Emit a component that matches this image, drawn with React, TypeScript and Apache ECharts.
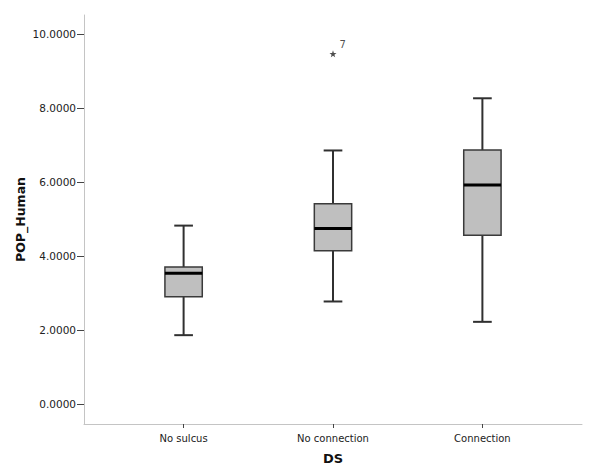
import React, { useEffect, useRef } from "react";
import * as echarts from "echarts";

const categories = ["No sulcus", "No connection", "Connection"];
const whiskerLow = [1.86, 2.77, 2.22];
const q1 = [2.9, 4.14, 4.56];
const median = [3.53, 4.74, 5.92];
const q3 = [3.7, 5.41, 6.86];
const whiskerHigh = [4.82, 6.85, 8.26];
const outliers = [[1, 9.46, "7"]];
const yTicks = [0, 2, 4, 6, 8, 10];
const xTicks = [0, 1, 2];

const STAR =
  "path://M50,0 L61.8,35.3 L97.6,34.5 L69.1,56.2 L79.4,90.5 L50,70 L20.6,90.5 L30.9,56.2 L2.4,34.5 L38.2,35.3 Z";

export default function App() {
  const ref = useRef<HTMLDivElement>(null);
  useEffect(() => {
    if (!ref.current) return;
    const chart = echarts.init(ref.current, null, { renderer: "svg" });
    const boxData = categories.map((_, i) => [i, whiskerLow[i], q1[i], median[i], q3[i], whiskerHigh[i]]);
    const font = "DejaVu Sans";
    chart.setOption({
      animation: false,
      backgroundColor: "#ffffff",
      grid: { left: 84, top: 15, right: 18, bottom: 49 },
      xAxis: {
        type: "value",
        min: -2 / 3,
        max: 8 / 3,
        name: "DS",
        nameLocation: "middle",
        nameGap: 28,
        nameTextStyle: { fontFamily: font, fontSize: 13, fontWeight: "bold", color: "#111" },
        splitLine: { show: false },
        axisLine: { show: true, onZero: false, lineStyle: { color: "#c4c4c4", width: 1 } },
        axisTick: { show: true, customValues: xTicks, length: 4, lineStyle: { color: "#444" } },
        axisLabel: {
          customValues: xTicks,
          formatter: (v: number) => categories[Math.round(v)] ?? "",
          fontFamily: font,
          fontSize: 10,
          color: "#222",
          margin: 9,
        },
      },
      yAxis: {
        type: "value",
        min: -0.54,
        max: 10.51,
        name: "POP_Human",
        nameLocation: "middle",
        nameGap: 57,
        nameMoveOverlap: false,
        nameTextStyle: { fontFamily: font, fontSize: 12.5, fontWeight: "bold", color: "#111" },
        splitLine: { show: false },
        axisLine: { show: true, onZero: false, lineStyle: { color: "#c4c4c4", width: 1 } },
        axisTick: { show: true, customValues: yTicks, length: 7, lineStyle: { color: "#444" } },
        axisLabel: {
          customValues: yTicks,
          formatter: (v: number) => v.toFixed(4),
          fontFamily: font,
          fontSize: 10.5,
          color: "#222",
          margin: 8,
        },
      },
      series: [
        {
          type: "custom",
          data: boxData,
          encode: { x: 0, y: [1, 2, 3, 4, 5] },
          renderItem: (params: any, api: any) => {
            const x = api.value(0);
            const unit = api.size([1, 0])[0];
            const bw = unit * 0.25;
            const cw = unit * 0.125;
            const pLow = api.coord([x, api.value(1)]);
            const pQ1 = api.coord([x, api.value(2)]);
            const pMed = api.coord([x, api.value(3)]);
            const pQ3 = api.coord([x, api.value(4)]);
            const pHigh = api.coord([x, api.value(5)]);
            const cx = pLow[0];
            const ws = { stroke: "#303030", lineWidth: 2 };
            return {
              type: "group",
              children: [
                { type: "line", shape: { x1: cx, y1: pHigh[1], x2: cx, y2: pQ3[1] }, style: ws },
                { type: "line", shape: { x1: cx, y1: pQ1[1], x2: cx, y2: pLow[1] }, style: ws },
                { type: "line", shape: { x1: cx - cw / 2, y1: pHigh[1], x2: cx + cw / 2, y2: pHigh[1] }, style: ws },
                { type: "line", shape: { x1: cx - cw / 2, y1: pLow[1], x2: cx + cw / 2, y2: pLow[1] }, style: ws },
                {
                  type: "rect",
                  shape: { x: cx - bw / 2, y: pQ3[1], width: bw, height: pQ1[1] - pQ3[1] },
                  style: { fill: "#bfbfbf", stroke: "#3a3a3a", lineWidth: 1.5 },
                },
                {
                  type: "line",
                  shape: { x1: cx - bw / 2, y1: pMed[1], x2: cx + bw / 2, y2: pMed[1] },
                  style: { stroke: "#000", lineWidth: 3 },
                },
              ],
            };
          },
        },
        {
          type: "scatter",
          data: outliers.map((o) => ({ value: [o[0], o[1]], name: o[2] })),
          symbol: STAR,
          symbolSize: 7,
          itemStyle: { color: "#222" },
          label: {
            show: true,
            formatter: (p: any) => p.name,
            position: "right",
            offset: [0, -9],
            distance: 3,
            fontFamily: font,
            fontSize: 10,
            color: "#222",
          },
        },
      ],
    });
    return () => chart.dispose();
  }, []);
  return <div ref={ref} style={{ width: 600, height: 473, position: "absolute", left: 0, top: 0 }} />;
}
